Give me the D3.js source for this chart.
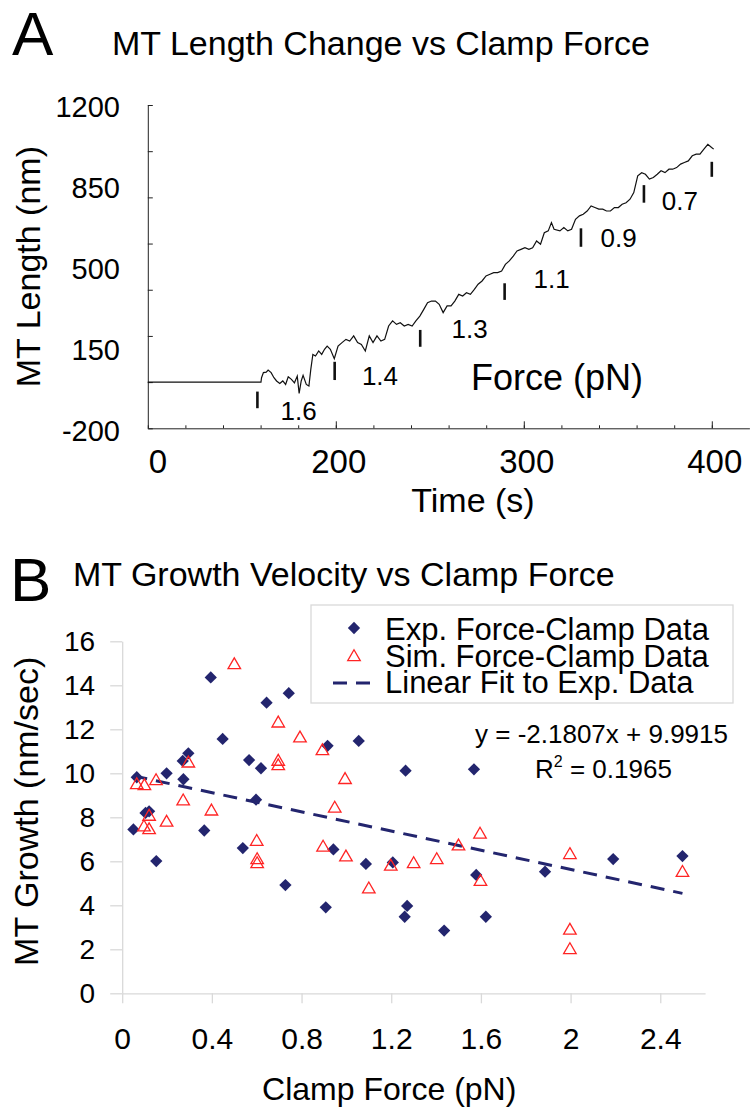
<!DOCTYPE html>
<html>
<head>
<meta charset="utf-8">
<script src="https://cdn.jsdelivr.net/npm/d3@7"></script>
<style>
    body { margin: 0; background: #fff; }
    svg text { font-family: "Liberation Sans", Arial, sans-serif; fill: #000; }
</style>
</head>
<body>
<div id="chart-container"></div>
<script>
// ---- Panel A data: MT length trace (time in s, length in nm)
const traceTime = [100, 160.2, 160.5, 161.5, 163, 164, 165.6, 167.1, 168.5, 170.2, 171.8, 173.3, 174.7, 176.4, 178, 179.5,
    180.5, 181.6, 182.6, 184.3, 185.7, 186.7, 187.8, 189.2, 190.9, 192.5, 194, 195.4, 197.1, 199.2, 201.2, 203.3, 205.4,
    207.4, 209.5, 211.6, 213.6, 215.7, 217.8, 219.8, 221.9, 224, 226, 228.1, 230.2, 232.3, 234.3, 236.4, 238.5, 240.6,
    242.6, 244.7, 246.8, 248.8, 250.9, 253, 255, 257.1, 259.2, 261.3, 263.3, 265.4, 267.5, 269.5, 271.6, 273.7, 275.7,
    277.8, 279.9, 282, 284, 286.1, 288.2, 290.2, 292.3, 294.4, 296.4, 298.5, 300.6, 302.7, 304.7, 306.8, 308.9, 310.9,
    313, 314.7, 316.1, 319.2, 321.3, 323.4, 325.4, 327.5, 329.6, 331.6, 333.7, 335.8, 337.8, 339.9, 342, 344, 346.1,
    348.2, 350.3, 352.3, 354.4, 356.5, 358.5, 360.6, 362.7, 364.7, 366.8, 368.9, 371, 373, 375.1, 377.2, 379.2, 381.3,
    383.4, 385.4, 387.5, 389.6, 391.7, 393.7, 395.8, 397.9, 399.9, 401];
const traceLength = [0, 0, 19, 41, 43, 52, 41, 19, 5, -6, 5, -10, 23, 12, -3, 26, -49, 5, 29, -10, -17, 55, 120, 113, 135,
    120, 142, 156, 142, 101, 156, 171, 185, 178, 200, 171, 163, 135, 200, 171, 200, 178, 185, 243, 265, 250, 257, 243,
    250, 243, 265, 286, 315, 344, 351, 351, 337, 301, 330, 330, 351, 380, 373, 387, 380, 402, 424, 438, 460, 467, 474,
    474, 481, 510, 525, 546, 568, 575, 582, 575, 582, 611, 597, 647, 655, 691, 662, 655, 669, 655, 662, 705, 720, 727,
    741, 763, 756, 749, 749, 741, 741, 756, 756, 770, 777, 792, 821, 893, 907, 900, 879, 886, 900, 915, 907, 922, 922,
    929, 944, 951, 958, 980, 987, 987, 1009, 1030, 1016, 1009];

// Force step markers ("I") and the clamp force labels
const markerTime = [158.3, 199.4, 244.9, 289.8, 330.4, 363.9, 400];
const markerTop = [-41, 88, 226, 428, 666, 853, 954];
const markerBottom = [-113, 9, 153, 356, 586, 777, 889];
const forceLabels = ["1.6", "1.4", "1.3", "1.1", "0.9", "0.7"];
const forceLabelTime = [180.2, 223.5, 271.2, 314.8, 350.4, 383];
const forceLabelLength = [-164, -12, 190, 406, 586, 745];

const timeLabels = ["0", "200", "300", "400"];
const timeLabelAt = [100, 200, 300, 400];
const lengthLabels = [1200, 850, 500, 150, -200];

// ---- Panel B data: growth velocity vs clamp force
const expForce = [0.395, 0.644, 0.743, 0.448, 0.295, 0.27, 0.566, 0.619, 0.916, 1.055, 0.065, 0.198, 0.273, 0.597,
    0.104, 0.12, 0.05, 0.366, 0.152, 0.538, 0.728, 0.908, 0.942, 1.087, 1.207, 1.271, 1.26, 1.436, 1.579, 1.622,
    1.886, 2.19, 2.499, 1.264, 1.569];
const expGrowth = [14.36, 13.21, 13.64, 11.56, 10.91, 10.56, 10.6, 10.23, 11.25, 11.47, 9.82, 10.0, 9.73, 8.8,
    8.2, 8.27, 7.45, 7.4, 6.01, 6.6, 4.92, 3.91, 6.54, 5.88, 5.95, 3.97, 3.48, 2.85, 5.38, 3.48,
    5.53, 6.1, 6.24, 10.12, 10.18];
const simForce = [0.5, 0.696, 0.793, 0.893, 0.696, 0.696, 0.295, 0.065, 0.099, 0.151, 0.994, 0.272, 0.398, 0.948,
    0.198, 0.12, 0.097, 0.12, 0.6, 0.896, 0.602, 0.602, 0.998, 1.1, 1.198, 1.3, 1.403, 1.5, 1.596, 1.598, 1.997,
    1.997, 1.997, 2.499];
const simGrowth = [14.92, 12.27, 11.59, 11.01, 10.53, 10.33, 10.45, 9.47, 9.42, 9.65, 9.7, 8.73, 8.27, 8.4,
    7.76, 8.03, 7.55, 7.42, 6.89, 6.63, 6.06, 5.88, 6.18, 4.73, 5.76, 5.88, 6.06, 6.68, 7.22, 5.07, 6.29,
    2.85, 1.97, 5.48];
const fitSlope = -2.1807;
const fitIntercept = 9.9915;
const fitR2 = 0.1965;

const forceTicks = [0, 0.4, 0.8, 1.2, 1.6, 2, 2.4];
const growthTicks = [0, 2, 4, 6, 8, 10, 12, 14, 16];
const legendLabels = ["Exp. Force-Clamp Data", "Sim. Force-Clamp Data", "Linear Fit to Exp. Data"];

const width = 750;
const height = 1117;
const navy = "#23256e";
const red = "#ff2424";
const gridGray = "#d9d9d9";

const chart = d3.select("#chart-container").append("svg")
    .attr("width", width)
    .attr("height", height);

// =============== Panel A ===============
const xA = d3.scaleLinear().domain([100, 420]).range([147.8, 749.4]);
const yA = d3.scaleLinear().domain([-200, 1200]).range([428.3, 105]);

chart.append("text").attr("x", 12).attr("y", 55).attr("font-size", 62).text("A");
chart.append("text").attr("x", 112).attr("y", 55).attr("font-size", 34)
    .text("MT Length Change vs Clamp Force");

// x axis: minor ticks every 20 s, major ticks at 200/300/400
chart.append("g")
    .attr("transform", `translate(0, ${yA(-200)})`)
    .call(d3.axisBottom(xA).tickValues(d3.range(100, 401, 20)).tickSize(-3).tickSizeOuter(0).tickFormat(""))
    .call(g => g.selectAll("path, line").attr("stroke", "#222"));
chart.append("g")
    .attr("transform", `translate(0, ${yA(-200)})`)
    .call(d3.axisBottom(xA).tickValues([200, 300, 400]).tickSize(-7).tickSizeOuter(0).tickFormat(""))
    .call(g => g.select(".domain").remove())
    .call(g => g.selectAll("line").attr("stroke", "#222"));

// y axis: ticks every 200 nm, labels every 350 nm
chart.append("g")
    .attr("transform", `translate(${xA(100)}, 0)`)
    .call(d3.axisLeft(yA).tickValues(d3.range(-200, 1201, 200)).tickSize(-5).tickSizeOuter(0).tickFormat(""))
    .call(g => g.selectAll("path, line").attr("stroke", "#222"));

chart.selectAll(".len-label")
    .data(lengthLabels)
    .enter().append("text")
    .attr("class", "len-label")
    .attr("x", 120)
    .attr("y", d => yA(d) + 2)
    .attr("dy", "0.36em")
    .attr("text-anchor", "end")
    .attr("font-size", 29)
    .text(d => d);

chart.selectAll(".time-label")
    .data(timeLabels)
    .enter().append("text")
    .attr("class", "time-label")
    .attr("x", (d, i) => xA(timeLabelAt[i]) + (i === 0 ? 1 : 3))
    .attr("y", 473)
    .attr("text-anchor", (d, i) => i === 0 ? "start" : "middle")
    .attr("font-size", 33)
    .text(d => d);

chart.append("text").attr("x", 473).attr("y", 512).attr("text-anchor", "middle")
    .attr("font-size", 34).text("Time (s)");
chart.append("text")
    .attr("transform", `translate(40, ${yA(500)}) rotate(-90)`)
    .attr("text-anchor", "middle")
    .attr("font-size", 34)
    .text("MT Length (nm)");

// trace
const traceLine = d3.line()
    .x((d, i) => xA(traceTime[i]))
    .y(d => yA(d));
chart.append("path")
    .datum(traceLength)
    .attr("d", traceLine)
    .attr("fill", "none")
    .attr("stroke", "#111")
    .attr("stroke-width", 1.2);

// force step markers
chart.selectAll(".marker")
    .data(markerTime)
    .enter().append("line")
    .attr("class", "marker")
    .attr("x1", d => xA(d)).attr("x2", d => xA(d))
    .attr("y1", (d, i) => yA(markerTop[i]))
    .attr("y2", (d, i) => yA(markerBottom[i]))
    .attr("stroke", "#111")
    .attr("stroke-width", 2.6);

chart.selectAll(".force-label")
    .data(forceLabels)
    .enter().append("text")
    .attr("class", "force-label")
    .attr("x", (d, i) => xA(forceLabelTime[i]))
    .attr("y", (d, i) => yA(forceLabelLength[i]))
    .attr("text-anchor", "middle")
    .attr("font-size", 26)
    .text(d => d);

chart.append("text").attr("x", 471).attr("y", 390).attr("font-size", 36).text("Force (pN)");

// =============== Panel B ===============
const xB = d3.scaleLinear().domain([0, 2.6]).range([122.2, 705.1]);
const yB = d3.scaleLinear().domain([0, 16]).range([993.3, 641.3]);

chart.append("text").attr("x", 10).attr("y", 601).attr("font-size", 62).text("B");
chart.append("text").attr("x", 73).attr("y", 586).attr("font-size", 34)
    .text("MT Growth Velocity vs Clamp Force");

chart.append("g")
    .attr("transform", `translate(0, ${yB(0)})`)
    .call(d3.axisBottom(xB).tickValues(forceTicks).tickSize(10).tickSizeOuter(0).tickFormat(d => String(d)))
    .call(g => g.selectAll("path, line").attr("stroke", gridGray).attr("stroke-width", 1.3))
    .call(g => g.selectAll("text").attr("y", 34).attr("font-size", 30).attr("font-family", null).attr("fill", "#000"));

chart.append("g")
    .attr("transform", `translate(${xB(0)}, 0)`)
    .call(d3.axisLeft(yB).tickValues(growthTicks).tickSize(12).tickSizeOuter(0))
    .call(g => g.selectAll("path, line").attr("stroke", gridGray).attr("stroke-width", 1.3))
    .call(g => g.selectAll("text").attr("x", -27).attr("font-size", 28).attr("font-family", null).attr("fill", "#000"));

chart.append("text").attr("x", xB(1.2) - 2).attr("y", 1100).attr("text-anchor", "middle")
    .attr("font-size", 32).text("Clamp Force (pN)");
chart.append("text")
    .attr("transform", `translate(38, ${yB(8) - 6}) rotate(-90)`)
    .attr("text-anchor", "middle")
    .attr("font-size", 34)
    .text("MT Growth (nm/sec)");

// linear fit over the range of the experimental forces
const fitX = [d3.min(expForce), d3.max(expForce)];
chart.append("line")
    .attr("x1", xB(fitX[0])).attr("y1", yB(fitSlope * fitX[0] + fitIntercept))
    .attr("x2", xB(fitX[1])).attr("y2", yB(fitSlope * fitX[1] + fitIntercept))
    .attr("stroke", navy)
    .attr("stroke-width", 3)
    .attr("stroke-dasharray", "14,9");

const diamond = d3.symbol().type(d3.symbolDiamond2).size(96);
const triangle = d3.symbol().type(d3.symbolTriangle).size(68);

chart.selectAll(".exp")
    .data(expForce)
    .enter().append("path")
    .attr("class", "exp")
    .attr("d", diamond)
    .attr("transform", (d, i) => `translate(${xB(d)}, ${yB(expGrowth[i])})`)
    .attr("fill", navy);

chart.selectAll(".sim")
    .data(simForce)
    .enter().append("path")
    .attr("class", "sim")
    .attr("d", triangle)
    .attr("transform", (d, i) => `translate(${xB(d)}, ${yB(simGrowth[i])})`)
    .attr("fill", "none")
    .attr("stroke", red)
    .attr("stroke-width", 1.3);

// equation
chart.append("text").attr("x", 475).attr("y", 743).attr("font-size", 26)
    .text(`y = ${fitSlope}x + ${fitIntercept}`);
const r2 = chart.append("text").attr("x", 535).attr("y", 778).attr("font-size", 26);
r2.append("tspan").text("R");
r2.append("tspan").attr("font-size", 16).attr("dy", -11).text("2");
r2.append("tspan").attr("dy", 11).text(` = ${fitR2}`);

// legend
const legend = chart.append("g").attr("transform", "translate(311, 605)");
legend.append("rect")
    .attr("width", 422).attr("height", 98)
    .attr("fill", "#fff")
    .attr("stroke", gridGray)
    .attr("stroke-width", 1.3);
legend.append("path").attr("d", diamond).attr("transform", "translate(43, 23)").attr("fill", navy);
legend.append("path").attr("d", triangle).attr("transform", "translate(43, 52)")
    .attr("fill", "none").attr("stroke", red).attr("stroke-width", 1.3);
legend.append("line").attr("x1", 22).attr("x2", 64).attr("y1", 78).attr("y2", 78)
    .attr("stroke", navy).attr("stroke-width", 3).attr("stroke-dasharray", "14,9");
legend.selectAll(".legend-label")
    .data(legendLabels)
    .enter().append("text")
    .attr("class", "legend-label")
    .attr("x", 74)
    .attr("y", (d, i) => 35 + i * 26.7)
    .attr("font-size", 31)
    .text(d => d);
</script>
</body>
</html>
